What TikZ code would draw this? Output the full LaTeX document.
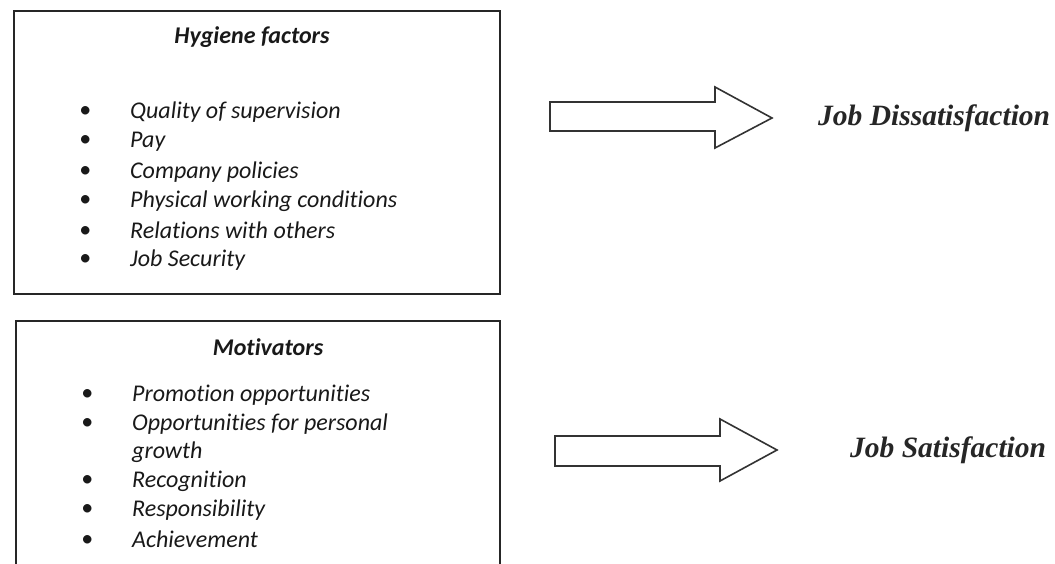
\documentclass[tikz,border=0pt]{standalone}
\usepackage{fontspec}
\setmainfont{Liberation Serif}
\newfontfamily\boxfont[Ligatures={NoCommon,NoRare}]{Carlito}
\begin{document}
\begin{tikzpicture}[x=1pt,y=-1pt,
  boxframe/.style={draw=black!85,line width=1.6pt,inner sep=0pt,anchor=north west},
  title/.style={font=\boxfont\fontsize{24}{28}\selectfont\bfseries\itshape,anchor=center,inner sep=0pt,text=black!90},
  item/.style={font=\boxfont\fontsize{24}{28}\selectfont\itshape,anchor=west,inner sep=0pt,text=black!90},
  result/.style={font=\fontsize{29.5}{34}\selectfont\bfseries\itshape,anchor=west,inner sep=0pt,text=black!85},
  blockarrow/.style={draw=black!80,line width=1.6pt,fill=white,line join=miter}]
\useasboundingbox (0,0) rectangle (1055,564);
\begin{scope}
\clip (0,0) rectangle (1055,564);
% boxes
\node[boxframe,minimum width=486pt,minimum height=283pt] (hyg) at (13,10) {};
\node[boxframe,minimum width=484pt,minimum height=270pt] (mot) at (15,320) {};
% hygiene texts
\node[title] (hygt) at (252,37) {Hygiene factors};
\newcommand\bul{\makebox[51pt][l]{\raisebox{1pt}{\textbullet}}}
\node[item] (h1) at (79,112) {\bul Quality of supervision};
\node[item] (h2) at (79,142) {\bul Pay};
\node[item] (h3) at (79,172) {\bul Company policies};
\node[item] (h4) at (79,201) {\bul Physical working conditions};
\node[item] (h5) at (79,230) {\bul Relations with others};
\node[item] (h6) at (79,260) {\bul Job Security};
% motivator texts
\node[title] (mott) at (268,347) {Motivators};
\node[item] (m1) at (81,395) {\bul Promotion opportunities};
\node[item] (m2) at (81,424) {\bul Opportunities for personal};
\node[item] (m2b) at (132,452) {growth};
\node[item] (m3) at (81,481) {\bul Recognition};
\node[item] (m4) at (81,510) {\bul Responsibility};
\node[item] (m5) at (81,539) {\bul Achievement};
% arrows
\draw[blockarrow] (550,102) -- (715,102) -- (715,87) -- (772,118) -- (715,148) -- (715,131) -- (550,131) -- cycle;
\draw[blockarrow] (555,436) -- (720,436) -- (720,419) -- (777,450) -- (720,481) -- (720,466) -- (555,466) -- cycle;
% results
\node[result] (dis) at (818,118) {Job Dissatisfaction};
\node[result] (sat) at (850,450) {Job Satisfaction};
\end{scope}
\end{tikzpicture}
\end{document}
